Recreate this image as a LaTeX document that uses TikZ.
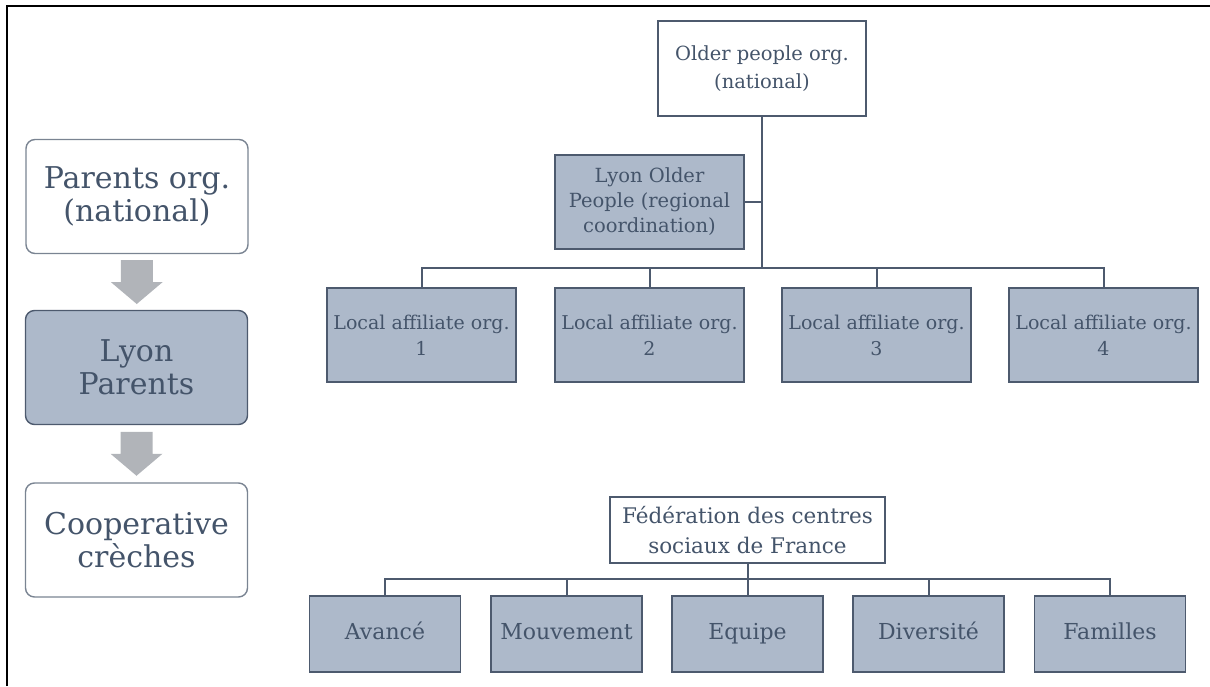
\documentclass[tikz,border=0pt]{standalone}
\usepackage{fontspec}
\setmainfont{DejaVu Serif}
\usetikzlibrary{calc}
\definecolor{slate}{HTML}{44546A}
\definecolor{boxfill}{HTML}{ADB9CA}
\definecolor{edge}{HTML}{4D5A6E}
\definecolor{softedge}{HTML}{7A8492}
\definecolor{arrowgray}{HTML}{B1B4B9}
\begin{document}
\begin{tikzpicture}[x=1pt,y=-1pt,
  every node/.style={text=slate, align=center, inner sep=0pt},
  roundbox/.style={draw=softedge, line width=1.4, rounded corners=9,
    minimum width=222, minimum height=114, font=\fontsize{30}{33}\selectfont},
  shaded/.style={fill=boxfill},
  orgbox/.style={draw=edge, line width=1.8, minimum width=189, minimum height=94,
    font=\fontsize{19}{26}\selectfont},
  headbox/.style={draw=edge, line width=1.8, fill=white},
  leafbox/.style={draw=edge, line width=1.8, fill=boxfill, minimum width=151,
    minimum height=76, text height=15, text depth=4, font=\fontsize{22}{26}\selectfont},
  link/.style={draw=edge, line width=2},
  blockarrow/.style={fill=arrowgray}
]
\useasboundingbox (0,0) rectangle (1210,686);
% outer frame (top and left edges only)
\draw[line width=2] (6.5,686) -- (6.5,5.5) -- (1210,5.5);

% ---------- left column: parents chain ----------
\node[roundbox] (parents) at (137,196.5) {Parents org.\\(national)};
\node[roundbox, shaded, draw=edge] (lyonp) at (136.5,367.5) {Lyon\\Parents};
\node[roundbox] (coop) at (136.5,540) {Cooperative\\crèches};

\coordinate (a1) at ($(parents.south)!0.5!(lyonp.north)$);
\coordinate (a2) at ($(lyonp.south)!0.5!(coop.north)$);
\foreach \c in {a1,a2}{
  \fill[blockarrow] ($(\c)+(-16,-22)$) -- ($(\c)+(16,-22)$) -- ($(\c)+(16,0)$)
    -- ($(\c)+(26,0)$) -- ($(\c)+(0,22)$) -- ($(\c)+(-26,0)$) -- ($(\c)+(-16,0)$) -- cycle;
}

% ---------- older people organisation ----------
\node[orgbox, headbox, minimum width=208, minimum height=95, font=\fontsize{19.5}{28}\selectfont]
  (older) at (762,68.5) {Older people org.\\(national)};
\node[orgbox, fill=boxfill, font=\fontsize{19.5}{25}\selectfont]
  (lyono) at (649.5,202) {Lyon Older\\People (regional\\coordination)};
\node[orgbox, fill=boxfill] (loc1) at (421.5,335) {Local affiliate org.\\1};
\node[orgbox, fill=boxfill] (loc2) at (649.5,335) {Local affiliate org.\\2};
\node[orgbox, fill=boxfill] (loc3) at (876.5,335) {Local affiliate org.\\3};
\node[orgbox, fill=boxfill] (loc4) at (1103.5,335) {Local affiliate org.\\4};

\coordinate (busA) at (older.south |- 0,268);
\path[link] (older.south) -- (busA);
\path[link] (loc1.north) |- (busA) -| (loc4.north);
\path[link] (loc2.north) -- (loc2.north |- busA);
\path[link] (loc3.north) -- (loc3.north |- busA);
\path[link] (lyono.east) -- (lyono.east -| older.south);

% ---------- federation of social centres ----------
\node[headbox, minimum width=275, minimum height=66, font=\fontsize{21.5}{30}\selectfont]
  (fed) at (747.5,530) {Fédération des centres\\sociaux de France};
\node[leafbox] (av) at (385,634) {Avancé};
\node[leafbox] (mv) at (566.5,634) {Mouvement};
\node[leafbox] (eq) at (747.5,634) {Equipe};
\node[leafbox] (dv) at (928.5,634) {Diversité};
\node[leafbox] (fa) at (1110,634) {Familles};

\coordinate (busB) at (fed.south |- 0,579);
\path[link] (fed.south) -- (eq.north);
\path[link] (av.north) |- (busB) -| (fa.north);
\path[link] (mv.north) -- (mv.north |- busB);
\path[link] (dv.north) -- (dv.north |- busB);
\end{tikzpicture}
\end{document}
